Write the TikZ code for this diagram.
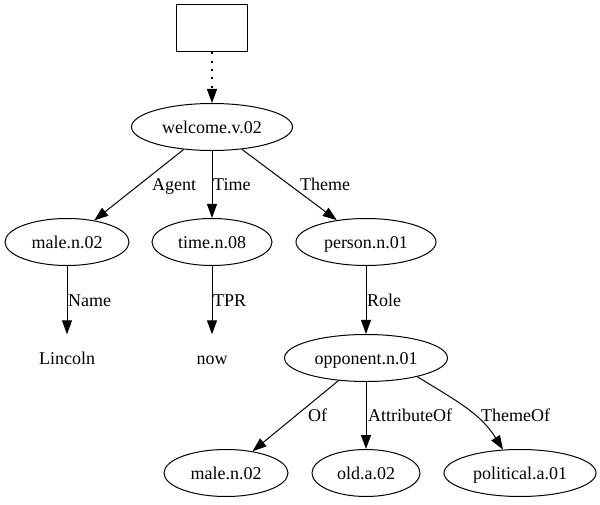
\documentclass[tikz,border=0pt]{standalone}
\usepackage{fontspec}
\setmainfont{Liberation Serif}
\usetikzlibrary{shapes.geometric,arrows.meta}

\begin{document}
\begin{tikzpicture}[x=1pt,y=1pt,
  every node/.style={font=\fontsize{18}{22}\selectfont, text height=12.6pt, text depth=0pt},
  sense/.style={draw, ellipse, line width=1pt, inner sep=0pt, minimum height=47pt},
  word/.style={inner sep=0pt, minimum height=47pt},
  lbl/.style={inner sep=0pt, anchor=west},
  edge/.style={->, line width=1pt},
  >={Triangle[length=14pt,width=10pt]}]
\useasboundingbox (0,0) rectangle (600,504);

% Root box
\node[draw, line width=1pt, minimum width=71pt, minimum height=47pt, inner sep=0pt] (root) at (212,475.5) {};

% Senses and words
\node[sense, minimum width=161pt] (welcome) at (212,377) {welcome.v.02};
\node[sense, minimum width=124pt] (male1) at (67,262) {male.n.02};
\node[sense, minimum width=120pt] (time) at (212,262) {time.n.08};
\node[sense, minimum width=140pt] (person) at (366,262) {person.n.01};
\node[word] (lincoln) at (67,146) {Lincoln};
\node[word] (now) at (212,146) {now};
\node[sense, minimum width=163pt] (opponent) at (366,146) {opponent.n.01};
\node[sense, minimum width=124pt] (male2) at (226,31) {male.n.02};
\node[sense, minimum width=108pt] (old) at (366,31) {old.a.02};
\node[sense, minimum width=152pt] (political) at (520,31) {political.a.01};

% Edges
\draw[edge, line width=1.3pt, dash pattern=on 2pt off 6.3pt] (root) -- (welcome);
\draw[edge] (welcome) -- (male1);
\draw[edge] (welcome) -- (time);
\draw[edge] (welcome) -- (person);
\draw[edge] (male1) -- (lincoln);
\draw[edge] (time) -- (now);
\draw[edge] (person) -- (opponent);
\draw[edge] (opponent) -- (male2);
\draw[edge] (opponent) -- (old);
\draw[edge] (opponent.-20) to[out=-32, in=122] (political.126);

% Edge labels
\node[lbl] (lagent) at (152,319.5) {Agent};
\node[lbl] (ltime) at (213,319.5) {Time};
\node[lbl] (ltheme) at (300,319.5) {Theme};
\node[lbl] (lname) at (68,204) {Name};
\node[lbl] (ltpr) at (213,204) {TPR};
\node[lbl] (lrole) at (367,204) {Role};
\node[lbl] (lof) at (308,88.5) {Of};
\node[lbl] (lattr) at (368,88.5) {AttributeOf};
\node[lbl] (lthemeof) at (481,88.5) {ThemeOf};

\end{tikzpicture}
\end{document}
